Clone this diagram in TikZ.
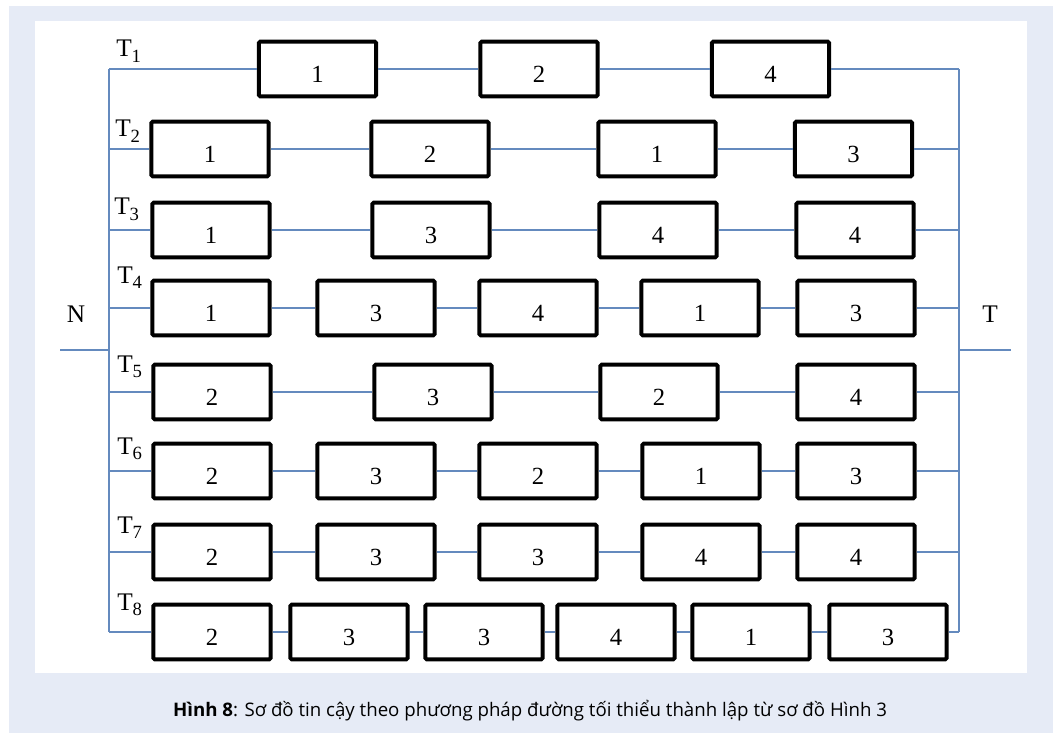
\documentclass[tikz,border=0pt]{standalone}
\usepackage{fontspec}
\setmainfont{Liberation Serif}
\newfontfamily\capfont{Open Sans}
\definecolor{outerbg}{RGB}{230,235,246}
\definecolor{wirecol}{RGB}{100,138,190}
\tikzset{
  blk/.style={draw=black, line width=2.9pt, rounded corners=1pt, fill=white,
    minimum width=88pt, minimum height=41pt, inner sep=0pt,
    text height=20pt, text depth=0pt, font=\fontsize{18.5}{18.5}\selectfont},
  wire/.style={draw=wirecol, line width=1.1pt},
  tlab/.style={anchor=base west, inner sep=0pt, font=\fontsize{19}{19}\selectfont},
  side/.style={inner sep=0pt, font=\fontsize{19}{19}\selectfont}
}
\newcommand{\Tsub}[1]{T\raisebox{-0.22em}{\fontsize{14}{14}\selectfont #1}}
\begin{document}
\begin{tikzpicture}[x=0.75pt,y=-0.75pt]
\useasboundingbox (0,0) rectangle (1059,734);
\fill[white] (0,0) rectangle (1059,734);
\fill[outerbg] (9,6) rectangle (1053,733);
\fill[white] (35,21) rectangle (1027,673);
% buses
\coordinate (L1) at (109,69); \coordinate (R1) at (959,69);
\coordinate (L2) at (109,149); \coordinate (R2) at (959,149);
\coordinate (L3) at (109,230); \coordinate (R3) at (959,230);
\coordinate (L4) at (109,308); \coordinate (R4) at (959,308);
\coordinate (L5) at (109,392); \coordinate (R5) at (959,392);
\coordinate (L6) at (109,471); \coordinate (R6) at (959,471);
\coordinate (L7) at (109,552); \coordinate (R7) at (959,552);
\coordinate (L8) at (109,632); \coordinate (R8) at (959,632);
\coordinate (NB) at (109,350); \coordinate (NE) at (60,350);
\coordinate (TB) at (959,350); \coordinate (TE) at (1011,350);
\draw[wire] (L1) -- (L8);
\draw[wire] (R1) -- (R8);
\draw[wire] (NE) -- (NB);
\draw[wire] (TB) -- (TE);
\node[side] (N) at (76,314) {N};
\node[side] (T) at (990,314) {T};
% labels
\node[tlab] (t1) at (116,57) {\Tsub{1}};
\node[tlab] (t2) at (115,137) {\Tsub{2}};
\node[tlab] (t3) at (114,215) {\Tsub{3}};
\node[tlab] (t4) at (117,283) {\Tsub{4}};
\node[tlab] (t5) at (117,372) {\Tsub{5}};
\node[tlab] (t6) at (117,454) {\Tsub{6}};
\node[tlab] (t7) at (117,533) {\Tsub{7}};
\node[tlab] (t8) at (117,610) {\Tsub{8}};
% row 1
\node[blk] (a1) at (317.5,69) {1};
\node[blk] (a2) at (539,69) {2};
\node[blk] (a3) at (770.5,69) {4};
\draw[wire] (L1) -- (a1) -- (a2) -- (a3) -- (R1);
% row 2
\node[blk] (b1) at (210,149) {1};
\node[blk] (b2) at (430,149) {2};
\node[blk] (b3) at (657,149) {1};
\node[blk] (b4) at (853.5,149) {3};
\draw[wire] (L2) -- (b1) -- (b2) -- (b3) -- (b4) -- (R2);
% row 3
\node[blk] (c1) at (211,230) {1};
\node[blk] (c2) at (431,230) {3};
\node[blk] (c3) at (658,230) {4};
\node[blk] (c4) at (855,230) {4};
\draw[wire] (L3) -- (c1) -- (c2) -- (c3) -- (c4) -- (R3);
% row 4
\node[blk] (d1) at (211,308) {1};
\node[blk] (d2) at (376,308) {3};
\node[blk] (d3) at (538,308) {4};
\node[blk] (d4) at (700,308) {1};
\node[blk] (d5) at (856,308) {3};
\draw[wire] (L4) -- (d1) -- (d2) -- (d3) -- (d4) -- (d5) -- (R4);
% row 5
\node[blk] (e1) at (212,392) {2};
\node[blk] (e2) at (433,392) {3};
\node[blk] (e3) at (659,392) {2};
\node[blk] (e4) at (856,392) {4};
\draw[wire] (L5) -- (e1) -- (e2) -- (e3) -- (e4) -- (R5);
% row 6
\node[blk] (f1) at (212,471) {2};
\node[blk] (f2) at (376,471) {3};
\node[blk] (f3) at (538,471) {2};
\node[blk] (f4) at (701,471) {1};
\node[blk] (f5) at (856,471) {3};
\draw[wire] (L6) -- (f1) -- (f2) -- (f3) -- (f4) -- (f5) -- (R6);
% row 7
\node[blk] (g1) at (212,552) {2};
\node[blk] (g2) at (376,552) {3};
\node[blk] (g3) at (538,552) {3};
\node[blk] (g4) at (701,552) {4};
\node[blk] (g5) at (856,552) {4};
\draw[wire] (L7) -- (g1) -- (g2) -- (g3) -- (g4) -- (g5) -- (R7);
% row 8
\node[blk] (h1) at (212,632) {2};
\node[blk] (h2) at (349,632) {3};
\node[blk] (h3) at (484,632) {3};
\node[blk] (h4) at (616,632) {4};
\node[blk] (h5) at (751,632) {1};
\node[blk] (h6) at (888,632) {3};
\draw[wire] (L8) -- (h1) -- (h2) -- (h3) -- (h4) -- (h5) -- (h6) -- (R8);
% caption
\node[inner sep=0pt, font=\capfont\fontsize{14}{14}\selectfont] (cap) at (530,711)
  {\textbf{Hình 8}: Sơ đồ tin cậy theo phương pháp đường tối thiểu thành lập từ sơ đồ Hình 3};
\end{tikzpicture}
\end{document}
